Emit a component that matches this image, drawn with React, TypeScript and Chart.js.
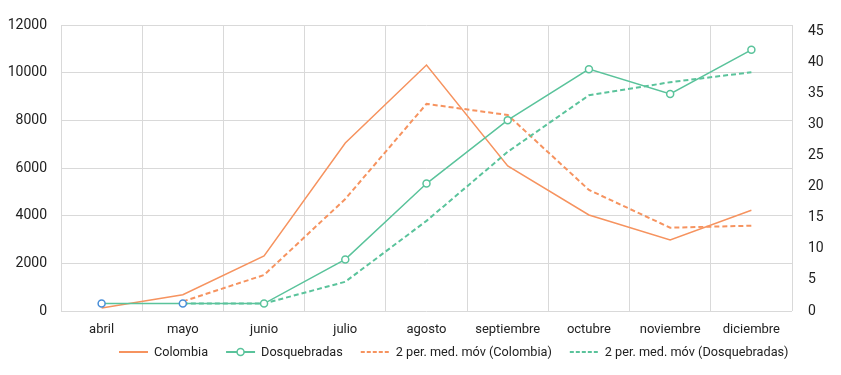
import React, { useEffect, useRef } from 'react';
import { Chart, registerables } from 'chart.js';

Chart.register(...registerables);

const months = ['abril', 'mayo', 'junio', 'julio', 'agosto', 'septiembre', 'octubre', 'noviembre', 'diciembre'];
const colombia = [126, 685, 2308, 7050, 10322, 6085, 4028, 2980, 4225];
const dosquebradas = [1.2, 1.2, 1.2, 8.3, 20.5, 30.7, 38.9, 34.9, 42.0];
const colombiaMA = [null, 400, 1510, 4700, 8690, 8225, 5080, 3495, 3580];
const dosquebradasMA = [null, 1.2, 1.2, 4.7, 14.5, 25.6, 34.7, 36.8, 38.4];
const leftTicks = [0, 2000, 4000, 6000, 8000, 10000, 12000];
const rightTicks = [0, 5, 10, 15, 20, 25, 30, 35, 40, 45];
const seriesNames = ['Colombia', 'Dosquebradas', '2 per. med. móv (Colombia)', '2 per. med. móv (Dosquebradas)'];

const ORANGE = '#f6935f';
const GREEN = '#5ac39b';
const BLUE = '#4a8fd8';
const GRID = '#d9d9d9';
const TEXT = '#222222';

const legendPlugin = {
  id: 'customLegend',
  afterDraw(chart: any) {
    const ctx = chart.ctx;
    const y = chart.chartArea.bottom + 41;
    const sample = 29;
    let x = 111;
    ctx.save();
    ctx.font = '12.7px Roboto';
    ctx.textBaseline = 'middle';
    ctx.fillStyle = TEXT;
    chart.data.datasets.forEach((ds: any) => {
      const color = ds.borderColor;
      ctx.save();
      ctx.strokeStyle = color;
      ctx.lineWidth = 2;
      if (ds.borderDash && ds.borderDash.length) ctx.setLineDash([4, 2]);
      ctx.beginPath();
      ctx.moveTo(x, y);
      ctx.lineTo(x + sample, y);
      ctx.stroke();
      ctx.setLineDash([]);
      if (ds.pointRadius > 0) {
        ctx.beginPath();
        ctx.arc(x + sample / 2, y, 3.5, 0, Math.PI * 2);
        ctx.fillStyle = '#ffffff';
        ctx.fill();
        ctx.lineWidth = 1.5;
        ctx.stroke();
      }
      ctx.restore();
      x += sample + 6;
      const w = ctx.measureText(ds.label).width;
      ctx.fillStyle = TEXT;
      ctx.fillText(ds.label, x, y + 1);
      x += w + 18;
    });
    ctx.restore();
  },
};

export default function App() {
  const ref = useRef<HTMLCanvasElement | null>(null);

  useEffect(() => {
    if (!ref.current) return;
    const chart = new Chart(ref.current, {
      type: 'line',
      data: {
        labels: months,
        datasets: [
          {
            label: seriesNames[0],
            data: colombia,
            yAxisID: 'y',
            borderColor: ORANGE,
            backgroundColor: ORANGE,
            borderWidth: 1.5,
            pointRadius: 0,
            tension: 0,
            order: 2,
          },
          {
            label: seriesNames[1],
            data: dosquebradas,
            yAxisID: 'y1',
            borderColor: GREEN,
            backgroundColor: GREEN,
            borderWidth: 1.5,
            pointRadius: 3.5,
            pointBorderWidth: 1.5,
            pointBackgroundColor: '#ffffff',
            pointBorderColor: dosquebradas.map((_, i) => (i < 2 ? BLUE : GREEN)),
            tension: 0,
            order: 0,
          },
          {
            label: seriesNames[2],
            data: colombiaMA,
            yAxisID: 'y',
            borderColor: ORANGE,
            backgroundColor: ORANGE,
            borderWidth: 2,
            borderDash: [5, 3],
            pointRadius: 0,
            tension: 0,
            order: 3,
          },
          {
            label: seriesNames[3],
            data: dosquebradasMA,
            yAxisID: 'y1',
            borderColor: GREEN,
            backgroundColor: GREEN,
            borderWidth: 2,
            borderDash: [5, 3],
            pointRadius: 0,
            tension: 0,
            order: 1,
          },
        ],
      },
      options: {
        responsive: true,
        maintainAspectRatio: false,
        animation: false,
        layout: { padding: { top: 17, bottom: 30, left: 0, right: 0 } },
        plugins: {
          legend: { display: false },
          tooltip: { enabled: false },
        },
        scales: {
          x: {
            type: 'category',
            offset: true,
            grid: { offset: true, color: GRID, lineWidth: 1, drawTicks: false },
            border: { display: false },
            ticks: { font: { family: 'Roboto', size: 13 }, color: TEXT, padding: 11, maxRotation: 0, autoSkip: false },
            afterFit: (s: any) => { s.height = 26; s.paddingLeft = 0; s.paddingRight = 0; },
          },
          y: {
            position: 'left',
            min: 0,
            max: 12000,
            grid: { color: GRID, lineWidth: 1, drawTicks: false },
            border: { display: false },
            ticks: { font: { family: 'Roboto', size: 14 }, color: TEXT, padding: 14, callback: (v: any) => String(v) },
            afterBuildTicks: (s: any) => { s.ticks = leftTicks.map((v) => ({ value: v })); },
            afterFit: (s: any) => { s.width = 53; s.paddingTop = 0; s.paddingBottom = 0; },
          },
          y1: {
            position: 'right',
            min: 0,
            max: 46,
            grid: { display: false, drawTicks: false },
            border: { display: false },
            ticks: { font: { family: 'Roboto', size: 14 }, color: TEXT, padding: 16, callback: (v: any) => String(v) },
            afterBuildTicks: (s: any) => { s.ticks = rightTicks.map((v) => ({ value: v })); },
            afterFit: (s: any) => { s.width = 41; s.paddingTop = 0; s.paddingBottom = 0; },
          },
        },
      } as any,
      plugins: [legendPlugin],
    });
    return () => chart.destroy();
  }, []);

  return (
    <div style={{ width: 825, height: 359, position: 'relative' }}>
      <canvas ref={ref} />
    </div>
  );
}
